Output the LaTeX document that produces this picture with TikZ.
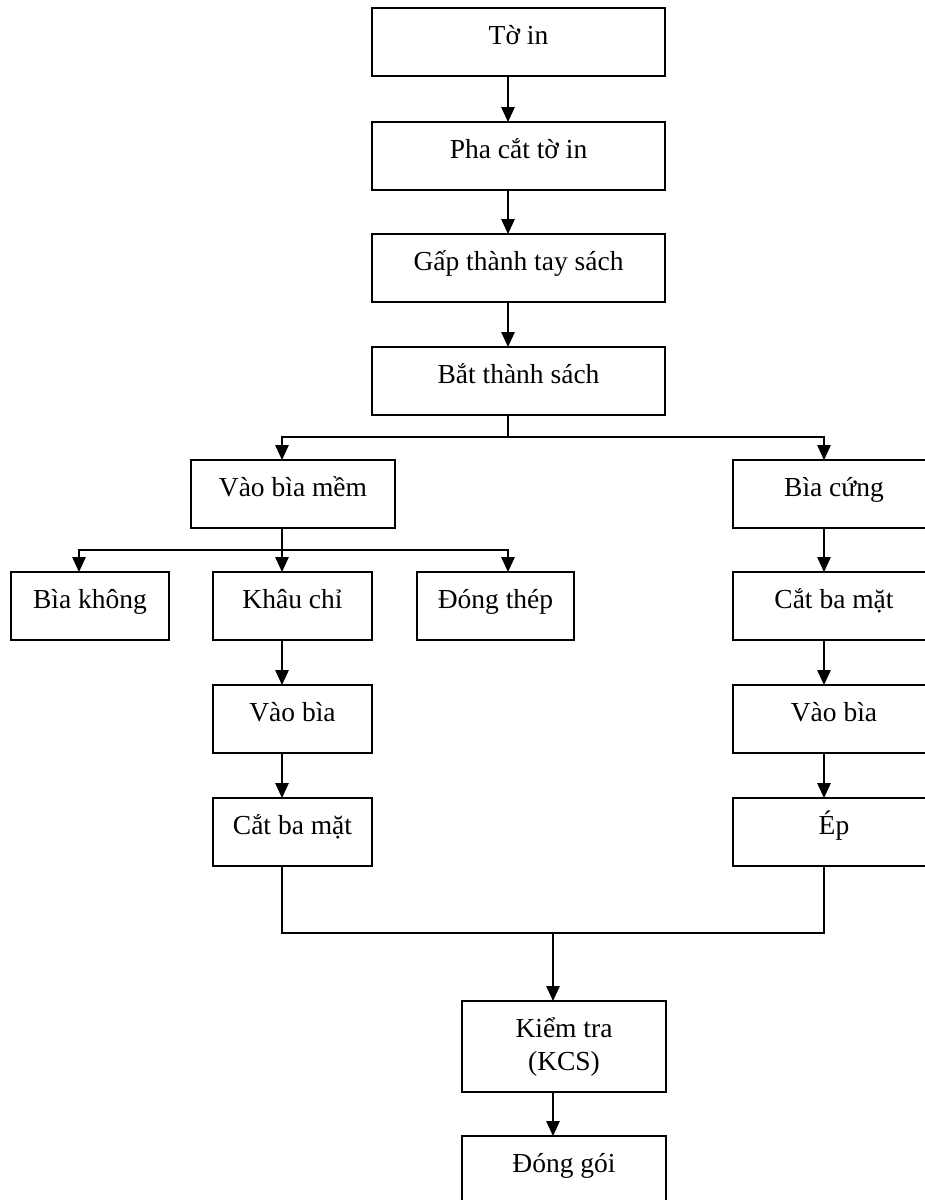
\documentclass[tikz,border=0pt]{standalone}
\usepackage{fontspec}
\setmainfont{Liberation Serif}
\usetikzlibrary{arrows.meta}
\begin{document}
\begin{tikzpicture}[x=1pt,y=-1pt,
  box/.style={draw, line width=1.6pt, rectangle, anchor=north west,
    inner sep=0pt, outer sep=0pt, font=\fontsize{27.5}{33}\selectfont,
    text height=36.5pt, text depth=31.5pt},
  arr/.style={line width=1.3pt, -{Triangle[width=13.5pt,length=15pt]}},
  ln/.style={line width=1.3pt}]
\useasboundingbox (0,0) rectangle (925,1200);
% axes
\coordinate (cA) at (508,0);
\coordinate (cL) at (282,0);
\coordinate (cR) at (824,0);
\coordinate (c0) at (79,0);
\coordinate (cK) at (553,0);
\coordinate (y1) at (0,437);
\coordinate (y2) at (0,550);
\coordinate (y3) at (0,933);
% boxes
\node[box, minimum width=293pt] (toin) at (372,8) {Tờ in};
\node[box, minimum width=293pt] (pha) at (372,122) {Pha cắt tờ in};
\node[box, minimum width=293pt] (gap) at (372,234) {Gấp thành tay sách};
\node[box, minimum width=293pt] (bat) at (372,347) {Bắt thành sách};
\node[box, minimum width=204pt] (mem) at (191,460) {Vào bìa mềm};
\node[box, minimum width=202pt] (cung) at (733,460) {Bìa cứng};
\node[box, minimum width=158pt] (khong) at (11,572) {Bìa không};
\node[box, minimum width=159pt] (khau) at (213,572) {Khâu chỉ};
\node[box, minimum width=157pt] (dong) at (417,572) {Đóng thép};
\node[box, minimum width=202pt] (catR) at (733,572) {Cắt ba mặt};
\node[box, minimum width=159pt] (vaoL) at (213,685) {Vào bìa};
\node[box, minimum width=202pt] (vaoR) at (733,685) {Vào bìa};
\node[box, minimum width=159pt] (catL) at (213,798) {Cắt ba mặt};
\node[box, minimum width=202pt] (ep) at (733,798) {Ép};
\node[box, minimum width=204pt, text height=36pt, text depth=55pt] (kiem) at (462,1001)
  {\begin{tabular}[t]{@{}c@{}}Kiểm tra\\(KCS)\end{tabular}};
\node[box, minimum width=204pt, text height=36pt, text depth=44pt] (goi) at (462,1136) {Đóng gói};
% main column
\draw[arr] (toin.south -| cA) -- (pha.north -| cA);
\draw[arr] (pha.south -| cA) -- (gap.north -| cA);
\draw[arr] (gap.south -| cA) -- (bat.north -| cA);
% first split
\draw[ln] (bat.south -| cA) -- (cA |- y1);
\draw[arr] (cA |- y1) -| (mem.north -| cL);
\draw[arr] (cA |- y1) -| (cung.north -| cR);
% second split
\draw[ln] (mem.south -| cL) -- (cL |- y2);
\draw[arr] (cL |- y2) -| (khong.north -| c0);
\draw[arr] (cL |- y2) -- (khau.north -| cL);
\draw[arr] (cL |- y2) -| (dong.north -| cA);
% left chain
\draw[arr] (khau.south -| cL) -- (vaoL.north -| cL);
\draw[arr] (vaoL.south -| cL) -- (catL.north -| cL);
% right chain
\draw[arr] (cung.south -| cR) -- (catR.north -| cR);
\draw[arr] (catR.south -| cR) -- (vaoR.north -| cR);
\draw[arr] (vaoR.south -| cR) -- (ep.north -| cR);
% merge
\draw[ln] (catL.south -| cL) |- (cK |- y3);
\draw[ln] (ep.south -| cR) |- (cK |- y3);
\draw[arr] (cK |- y3) -- (kiem.north -| cK);
\draw[arr] (kiem.south -| cK) -- (goi.north -| cK);
\end{tikzpicture}
\end{document}
